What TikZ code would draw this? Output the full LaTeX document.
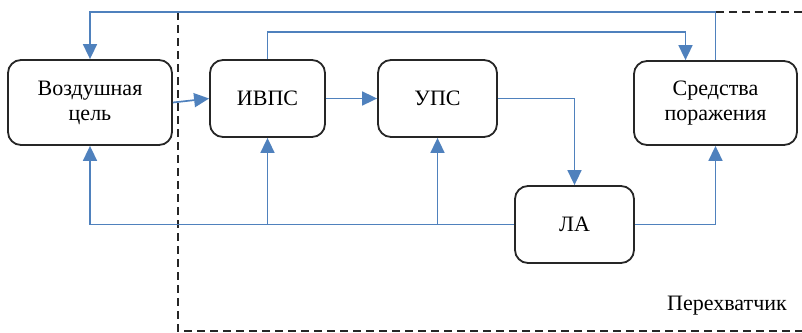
\documentclass[tikz,border=0pt]{standalone}
\usepackage{fontspec}
\setmainfont{Liberation Serif}
\usepackage{xcolor}
\usetikzlibrary{arrows.meta,positioning}
\definecolor{LinkBlue}{HTML}{4F81BD}
\definecolor{BoxGray}{HTML}{262626}

\begin{document}
\begin{tikzpicture}[x=1pt,y=-1pt,
        block/.style={draw=BoxGray,line width=1.8pt,rounded corners=13pt,align=center,
            font=\fontsize{22}{25}\selectfont,inner sep=0pt},
        link/.style={draw=LinkBlue,line width=1.7pt},
        flow/.style={link,-{Triangle[length=15pt,width=14pt]}}]
        \useasboundingbox (0,0) rectangle (802,332);
        % The interceptor frame
        \draw[BoxGray,line width=1.6pt,dash pattern=on 8pt off 5pt] (802,12) -- (178,12) -- (178,331) -- (802,331);
        \node[font=\fontsize{22}{25}\selectfont] (interceptor) at (727,306) {Перехватчик};
        % Blocks
        \node[block,minimum width=164pt,minimum height=85pt] (target) at (90,102.5) {Воздушная\\цель};
        \node[block,minimum width=115pt,minimum height=77pt] (ivps) at (267.5,98.5) {ИВПС};
        \node[block,minimum width=119pt,minimum height=77pt] (ups) at (437.5,98.5) {УПС};
        \node[block,minimum width=163pt,minimum height=84pt] (weapons) at (715.5,103) {Средства\\поражения};
        \node[block,minimum width=119pt,minimum height=77pt] (la) at (574.5,224.5) {ЛА};
        \coordinate (outer) at (0,12);
        \coordinate (inner) at (0,32);
        % Main chain
        \draw[flow] (target.east) -- (ivps.west);
        \draw[flow] (ivps.east) -- (ups.west);
        \draw[flow] (ups.east) -| (la.north);
        % Feedback over the top
        \draw[flow] (weapons.north) -- (weapons.north |- outer) -| (target.north);
        \draw[flow] (ivps.north) -- (ivps.north |- inner) -| ([xshift=-30pt]weapons.north);
        % Lines from the aircraft
        \draw[flow] (la.west) -| (target.south);
        \draw[flow] (ivps.south |- la.west) -- (ivps.south);
        \draw[flow] (ups.south |- la.west) -- (ups.south);
        \draw[flow] (la.east) -| (weapons.south);
\end{tikzpicture}
\end{document}
